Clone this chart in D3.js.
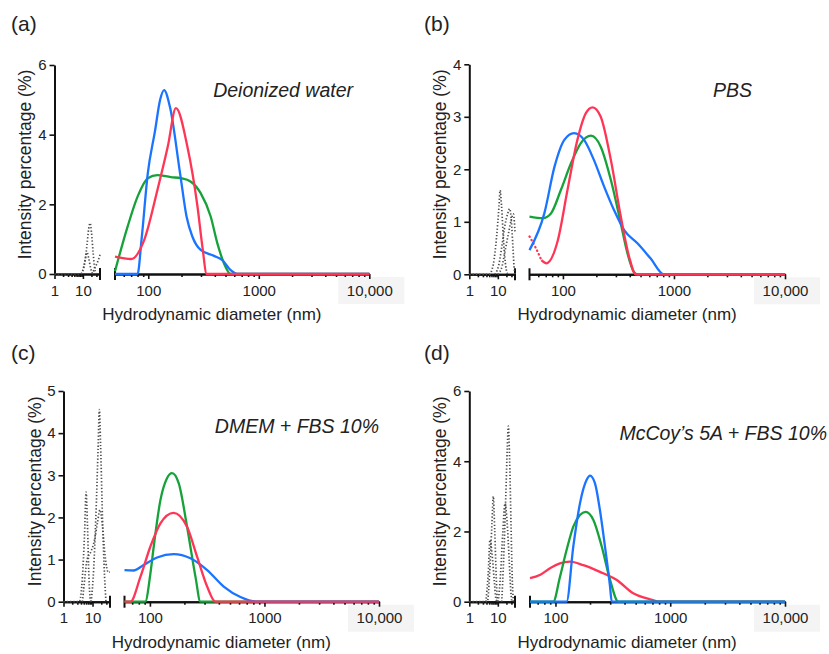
<!DOCTYPE html>
<html>
<head>
<meta charset="utf-8">
<script src="https://cdn.jsdelivr.net/npm/d3@7"></script>
<style>
  body { margin: 0; background: #fff; }
  svg { font-family: "Liberation Sans", Arial, sans-serif; }
</style>
</head>
<body>
<div id="chart"></div>
<script>
// Tick values and labels
const seg1Ticks = [1, 10];
const seg1Labels = ["1", "10"];
const seg2Ticks = [100, 1000, 10000];
const seg2Labels = ["100", "1000", "10,000"];
const yTicksA = [0, 2, 4, 6];
const yTicksB = [0, 1, 2, 3, 4];
const yTicksC = [0, 1, 2, 3, 4, 5];
const yTicksD = [0, 2, 4, 6];

// Panel texts
const panelLetters = ["(a)", "(b)", "(c)", "(d)"];
const mediums = ["Deionized water", "PBS", "DMEM + FBS 10%", "McCoy\u2019s 5A + FBS 10%"];

// (a) deionized water - [diameter nm, intensity %]
const aGreen = [[50, 0.08], [65, 1.36], [80, 2.22], [99, 2.75], [121, 2.84], [160, 2.78], [197, 2.75], [243, 2.65], [298, 2.32], [367, 1.65], [422, 0.88], [484, 0.31], [556, 0], [10000, 0]];
const aBlue = [[50, 0], [80, 0], [87, 1.0], [99, 2.89], [115, 4.1], [128, 5.0], [139, 5.28], [157, 4.8], [194, 2.89], [222, 1.65], [251, 1.07], [298, 0.69], [393, 0.52], [468, 0.40], [556, 0.11], [638, 0], [10000, 0]];
const aRed = [[50, 0.5], [70, 0.43], [92, 0.98], [121, 2.41], [150, 3.65], [178, 4.76], [226, 3.65], [279, 1.93], [309, 0.78], [338, 0], [10000, 0]];
const aGrey1 = [[1, 0], [8, 0], [10, 0.1], [12, 0.4], [14, 0.85], [16, 1.3], [18, 1.46], [20, 1.2], [23, 0.6], [26, 0.15], [30, 0]];
const aGrey2 = [[9, 0], [11, 0.25], [13, 0.55], [14, 0.62], [16, 0.45], [19, 0.15], [22, 0]];
const aGrey3 = [[20, 0], [24, 0.1], [28, 0.22], [35, 0.4], [40, 0.55]];

// (b) PBS
const bBlue = [[50, 0.46], [68, 1.16], [84, 2.05], [103, 2.56], [126, 2.69], [155, 2.56], [190, 2.18], [235, 1.67], [289, 1.22], [356, 0.84], [469, 0.59], [617, 0.30], [813, 0], [10000, 0]];
const bGreen = [[50, 1.10], [66, 1.07], [78, 1.16], [96, 1.61], [118, 2.11], [145, 2.50], [179, 2.64], [219, 2.43], [270, 1.80], [332, 0.97], [381, 0.40], [437, 0.04], [469, 0], [10000, 0]];
const bRedDots = [[50, 0.72], [57, 0.5], [64, 0.27]];
const bRed = [[64, 0.27], [71, 0.21], [90, 0.65], [110, 1.61], [135, 2.56], [161, 3.07], [185, 3.18], [219, 3.0], [270, 2.18], [332, 1.10], [394, 0.34], [453, 0], [10000, 0]];
const bGrey1 = [[1, 0], [5, 0], [7, 0.2], [9, 0.7], [11, 1.3], [12, 1.6], [13.5, 1.3], [16, 0.6], [19, 0.15], [22, 0]];
const bGrey2 = [[8, 0], [11, 0.2], [14, 0.55], [18, 0.95], [22, 1.15], [26, 1.25], [30, 1.0], [34, 0.5], [37, 0.15], [40, 0]];
const bGrey3 = [[10, 0], [14, 0.15], [18, 0.45], [24, 0.8], [30, 1.05], [35, 1.15], [38, 1.0], [40, 0.8]];

// (c) DMEM + FBS 10%
const cGreen = [[60, 0], [91, 0], [101, 0.67], [108, 1.31], [123.5, 2.41], [141, 2.93], [156, 3.05], [178.6, 2.81], [211, 1.78], [250, 0.59], [276, 0], [10000, 0]];
const cBlue = [[60, 0.75], [72, 0.74], [88, 0.87], [115.6, 1.05], [161, 1.13], [226, 1.03], [316, 0.75], [441, 0.36], [617, 0.11], [863, 0], [10000, 0]];
const cRed = [[60, 0], [67.6, 0], [82.6, 0.59], [101, 1.31], [123.5, 1.86], [161, 2.11], [211, 1.78], [258, 1.07], [316, 0.36], [373, 0], [10000, 0]];
const cGrey1 = [[1, 0], [3.5, 0], [4.5, 0.6], [5.3, 1.6], [6, 2.6], [6.7, 1.8], [7.5, 0.6], [8.5, 0]];
const cGrey2 = [[9, 0], [11, 0.8], [13, 2.0], [15.5, 3.6], [17.2, 4.56], [19, 3.7], [22, 2.0], [26, 0.6], [29, 0]];
const cGrey3 = [[4.5, 0], [5.5, 0.6], [6.5, 1.0], [9, 1.2], [12, 1.5], [15, 1.9], [18, 2.18], [22, 1.8], [27, 1.1], [31, 0.8], [35, 0.7], [40, 0.7]];

// (d) McCoy's 5A + FBS 10%
const dRed = [[60, 0.67], [73, 0.76], [89.6, 0.95], [109.5, 1.09], [133.6, 1.14], [174.6, 1.04], [244, 0.85], [342, 0.62], [476, 0.24], [667, 0.07], [815, 0], [10000, 0]];
const dGreen = [[60, 0], [95.7, 0], [109.5, 0.71], [125, 1.47], [143, 2.14], [163.5, 2.47], [183, 2.56], [214, 2.33], [253, 1.57], [299, 0.62], [353, 0], [10000, 0]];
const dBlue = [[60, 0], [125, 0], [143, 1.57], [163.5, 2.80], [187, 3.47], [200, 3.59], [221, 3.37], [244, 2.61], [270, 1.57], [299, 0.43], [309, 0], [10000, 0]];
const dGrey1 = [[1, 0], [4.3, 0], [5.3, 1.0], [6.2, 2.2], [6.95, 3.0], [7.8, 2.0], [8.8, 0.7], [9.6, 0]];
const dGrey2 = [[3.8, 0], [4.6, 0.8], [5.3, 1.76], [6.2, 1.4], [7.5, 0.6], [8.5, 0.1], [9.5, 0]];
const dGrey3 = [[10.4, 0], [12.5, 0.8], [15, 2.0], [17.9, 2.8], [21, 2.3], [25, 1.2], [28, 0.4], [30.8, 0]];
const dGrey4 = [[13.7, 0], [16, 1.2], [19, 3.0], [21.5, 4.4], [23.4, 5.0], [26, 4.0], [29, 2.2], [32, 0.7], [35, 0]];

// Colours
const blue = "#1a74ff";
const red = "#ff3556";
const green = "#16a23a";
const grey = "#4d4d4d";

// Size of the picture
let width = 829;
let height = 654;

let svg = d3.select("#chart").append("svg")
    .attr("width", width)
    .attr("height", height)
    .attr("viewBox", `0 0 ${width} ${height}`);

// Layout of each panel (axis positions in pixels)
let panels = [
    {
        letter: panelLetters[0], lx: 11, ly: 31,
        medium: mediums[0], mx: 353, my: 97,
        yAxisX: 54.5, seg1End: 100, seg2Start: 115, seg2End: 369.3, seg2Min: 50,
        yTop: 65, yBottom: 274, yMax: 6, yTicks: yTicksA, yLabelX: 31,
        series: [[aGreen, green], [aBlue, blue], [aRed, red]],
        dotted: [],
        grey: [aGrey1, aGrey2, aGrey3]
    },
    {
        letter: panelLetters[1], lx: 424, ly: 31,
        medium: mediums[1], mx: 752, my: 97,
        yAxisX: 469.3, seg1End: 515, seg2Start: 529.5, seg2End: 785, seg2Min: 50,
        yTop: 64.3, yBottom: 274.3, yMax: 4, yTicks: yTicksB, yLabelX: 446,
        series: [[bGreen, green], [bBlue, blue], [bRed, red]],
        dotted: [[bRedDots, red]],
        grey: [bGrey1, bGrey2, bGrey3]
    },
    {
        letter: panelLetters[2], lx: 11, ly: 360,
        medium: mediums[2], mx: 379, my: 433,
        yAxisX: 63.5, seg1End: 110, seg2Start: 124.5, seg2End: 379, seg2Min: 60,
        yTop: 391, yBottom: 601.7, yMax: 5, yTicks: yTicksC, yLabelX: 41,
        series: [[cGreen, green], [cBlue, blue], [cRed, red]],
        dotted: [],
        grey: [cGrey1, cGrey2, cGrey3]
    },
    {
        letter: panelLetters[3], lx: 424, ly: 360,
        medium: mediums[3], mx: 827, my: 440,
        yAxisX: 469.3, seg1End: 515, seg2Start: 530, seg2End: 785, seg2Min: 60,
        yTop: 391, yBottom: 601.7, yMax: 6, yTicks: yTicksD, yLabelX: 446,
        series: [[dRed, red], [dGreen, green], [dBlue, blue]],
        dotted: [],
        grey: [dGrey1, dGrey2, dGrey3, dGrey4]
    }
];

// Minor tick positions for the log axes
let seg1Minor = [2, 3, 4, 5, 6, 7, 8, 9, 20, 30];
let seg2Minor = [];
for (let dec of [10, 100, 1000]) {
    for (let k = 2; k <= 9; k++) {
        seg2Minor.push(dec * k);
    }
}

function styleAxis(sel) {
    sel.select(".domain").attr("stroke", "#111").attr("stroke-width", 2);
    sel.selectAll(".tick line").attr("stroke", "#111").attr("stroke-width", 1.6);
    sel.selectAll(".tick text")
        .attr("fill", "#222")
        .style("font-size", "15px")
        .style("font-family", "'Liberation Sans', Arial, sans-serif");
}

function drawPanel(p) {
    let g = svg.append("g");

    // Scales: broken log x axis in two segments
    const x1 = d3.scaleLog().domain([1, 40]).range([p.yAxisX, p.seg1End]);
    const x2 = d3.scaleLog().domain([p.seg2Min, 10000]).range([p.seg2Start, p.seg2End]);
    const y = d3.scaleLinear().domain([0, p.yMax]).range([p.yBottom, p.yTop]);

    // light box behind the 10,000 label
    g.append("rect")
        .attr("x", x2(10000) - 31)
        .attr("y", p.yBottom + 3)
        .attr("width", 66)
        .attr("height", 27)
        .attr("fill", "#f4f4f4");

    // Segment 1 minor ticks
    g.append("g")
        .attr("transform", `translate(0, ${p.yBottom})`)
        .call(d3.axisBottom(x1).tickValues(seg1Minor).tickSize(3).tickSizeOuter(0).tickFormat(""))
        .call(styleAxis);

    // Segment 1 major ticks
    g.append("g")
        .attr("transform", `translate(0, ${p.yBottom})`)
        .call(d3.axisBottom(x1).tickValues(seg1Ticks).tickSize(5).tickSizeOuter(0).tickPadding(6)
            .tickFormat((d, i) => seg1Labels[i]))
        .call(styleAxis);

    // Segment 2 minor ticks
    g.append("g")
        .attr("transform", `translate(0, ${p.yBottom})`)
        .call(d3.axisBottom(x2).tickValues(seg2Minor.filter(v => v > p.seg2Min)).tickSize(3).tickSizeOuter(0).tickFormat(""))
        .call(styleAxis);

    // Segment 2 major ticks
    g.append("g")
        .attr("transform", `translate(0, ${p.yBottom})`)
        .call(d3.axisBottom(x2).tickValues(seg2Ticks).tickSize(5).tickSizeOuter(0).tickPadding(6)
            .tickFormat((d, i) => seg2Labels[i]))
        .call(styleAxis);

    // Break marks at the ends of the gap
    for (let bx of [p.seg1End, p.seg2Start]) {
        g.append("line")
            .attr("x1", bx).attr("x2", bx)
            .attr("y1", p.yBottom - 6).attr("y2", p.yBottom + 6)
            .attr("stroke", "#111")
            .attr("stroke-width", 2);
    }

    // Y axis
    g.append("g")
        .attr("transform", `translate(${p.yAxisX}, 0)`)
        .call(d3.axisLeft(y).tickValues(p.yTicks).tickSize(5).tickSizeOuter(0).tickPadding(3)
            .tickFormat(d3.format("d")))
        .call(styleAxis);

    // Grey dotted curves in the small size segment
    let greyLine = d3.line()
        .x(d => x1(d[0]))
        .y(d => y(d[1]))
        .curve(d3.curveMonotoneX);

    for (let s of p.grey) {
        g.append("path")
            .attr("d", greyLine(s))
            .attr("fill", "none")
            .attr("stroke", grey)
            .attr("stroke-width", 1.7)
            .attr("stroke-dasharray", "1.3,2");
    }

    // Coloured curves
    let line = d3.line()
        .x(d => x2(d[0]))
        .y(d => y(d[1]))
        .curve(d3.curveMonotoneX);

    for (let s of p.dotted) {
        g.append("path")
            .attr("d", line(s[0]))
            .attr("fill", "none")
            .attr("stroke", s[1])
            .attr("stroke-width", 2.2)
            .attr("stroke-linecap", "round")
            .attr("stroke-dasharray", "0.5,3.5");
    }

    for (let s of p.series) {
        g.append("path")
            .attr("d", line(s[0]))
            .attr("fill", "none")
            .attr("stroke", s[1])
            .attr("stroke-width", 2.3)
            .attr("stroke-linejoin", "round");
    }

    // Axis titles
    g.append("text")
        .attr("x", (p.yAxisX + p.seg2End) / 2)
        .attr("y", p.yBottom + 46)
        .attr("text-anchor", "middle")
        .attr("fill", "#222")
        .style("font-size", "17px")
        .text("Hydrodynamic diameter (nm)");

    g.append("text")
        .attr("transform", `translate(${p.yLabelX}, ${(p.yTop + p.yBottom) / 2 - 5}) rotate(-90)`)
        .attr("text-anchor", "middle")
        .attr("fill", "#222")
        .style("font-size", "17.5px")
        .text("Intensity percentage (%)");

    // Medium name
    g.append("text")
        .attr("x", p.mx)
        .attr("y", p.my)
        .attr("text-anchor", "end")
        .attr("fill", "#222")
        .style("font-size", "19.5px")
        .style("font-style", "italic")
        .text(p.medium);

    // Panel letter
    g.append("text")
        .attr("x", p.lx)
        .attr("y", p.ly)
        .attr("fill", "#222")
        .style("font-size", "21px")
        .text(p.letter);
}

panels.forEach(drawPanel);
</script>
</body>
</html>
